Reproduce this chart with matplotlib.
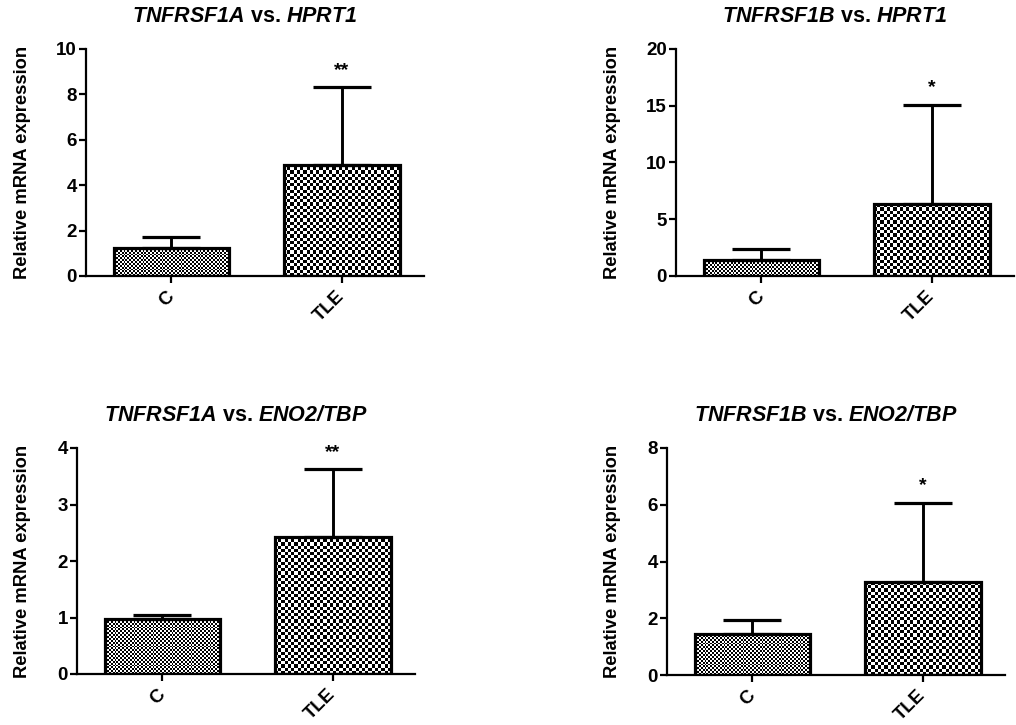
import numpy as np
import matplotlib.pyplot as plt

plt.rcParams['font.family'] = 'Liberation Sans'
plt.rcParams['font.weight'] = 'bold'
plt.rcParams['mathtext.fontset'] = 'custom'
plt.rcParams['mathtext.bfit'] = 'Liberation Sans:bold:italic'
plt.rcParams['mathtext.bf'] = 'Liberation Sans:bold'
plt.rcParams['mathtext.rm'] = 'Liberation Sans:bold'

# ---- data
groups = ['C', 'TLE']
genes = ['TNFRSF1A', 'TNFRSF1B', 'TNFRSF1A', 'TNFRSF1B']
refs = ['HPRT1', 'HPRT1', 'ENO2/TBP', 'ENO2/TBP']
means = [[1.22, 4.89], [1.40, 6.34], [0.97, 2.43], [1.45, 3.27]]
errs = [[0.50, 3.42], [0.98, 8.76], [0.08, 1.19], [0.49, 2.79]]
stars = ['**', '*', '**', '*']
ymax = [10, 20, 4, 8]
ystep = [2, 5, 1, 2]

# ---- layout (pixels in a 1016x725 canvas)
W, H = 1016, 725
boxes = [(86, 49, 276), (676, 49, 276), (77, 448, 674), (667, 448, 675)]
ax_w = 338
label_x = [31, 621, 31, 621]
cells = [1.9, 3.2]


def checker_fill(ax, bar, cell_px):
    x0, y0 = bar.get_x(), bar.get_y()
    x1, y1 = x0 + bar.get_width(), y0 + bar.get_height()
    (px0, py0), (px1, py1) = ax.transData.transform([(x0, y0), (x1, y1)])
    nx = max(1, int(round((px1 - px0) / cell_px)))
    ny = max(1, int(round((py1 - py0) / cell_px)))
    yy, xx = np.indices((ny, nx))
    tex = (xx + yy) % 2
    im = ax.imshow(tex, cmap='gray', extent=(x0, x1, y0, y1), aspect='auto',
                   interpolation='nearest', origin='lower', zorder=2)
    im.set_clip_path(bar)


fig = plt.figure(figsize=(W / 100, H / 100), dpi=100)

for i in range(4):
    left, top, bottom = boxes[i]
    ax = fig.add_axes([left / W, 1 - bottom / H, ax_w / W, (bottom - top) / H])
    x = np.arange(len(groups))
    ax.set_xlim(-0.5, 1.48)
    ax.set_ylim(0, ymax[i])

    bars = ax.bar(x, means[i], width=0.675, facecolor='none', edgecolor='black',
                  linewidth=2.3, zorder=3)
    for b, c in zip(bars, cells):
        checker_fill(ax, b, c)
    ax.set_xlim(-0.5, 1.48)
    ax.set_ylim(0, ymax[i])

    ax.errorbar(x, means[i], yerr=[np.zeros(2), errs[i]], fmt='none', ecolor='black',
                elinewidth=2.1, capsize=21, capthick=2.3, zorder=4)

    top_tle = means[i][1] + errs[i][1]
    ax.annotate(stars[i], xy=(1, top_tle), xytext=(0, 9), textcoords='offset points',
                ha='center', va='baseline', fontsize=14, fontweight='bold')

    ax.set_yticks(np.arange(0, ymax[i] + 0.001, ystep[i]))
    ax.set_xticks(x)
    ax.set_xticklabels(groups, rotation=45, ha='right', va='center',
                       rotation_mode='anchor')
    ax.tick_params(axis='both', direction='out', length=5, width=1.6, labelsize=13.5)
    ax.tick_params(axis='x', pad=8)
    ax.tick_params(axis='y', pad=1.5)
    for lab in ax.get_xticklabels() + ax.get_yticklabels():
        lab.set_fontweight('bold')

    for s in ['top', 'right']:
        ax.spines[s].set_visible(False)
    for s in ['left', 'bottom']:
        ax.spines[s].set_linewidth(1.6)

    ax.set_ylabel('Relative mRNA expression', fontsize=13.2, fontweight='bold')
    ax.yaxis.set_label_coords((label_x[i] - left) / ax_w, 0.5)

    ax.set_title(r'$\mathbfit{' + genes[i] + r'}$ vs. $\mathbfit{' + refs[i] + '}$',
                 x=0.47, pad=19.5, fontsize=15.5, fontweight='bold')

plt.savefig('out.png', dpi=100)
